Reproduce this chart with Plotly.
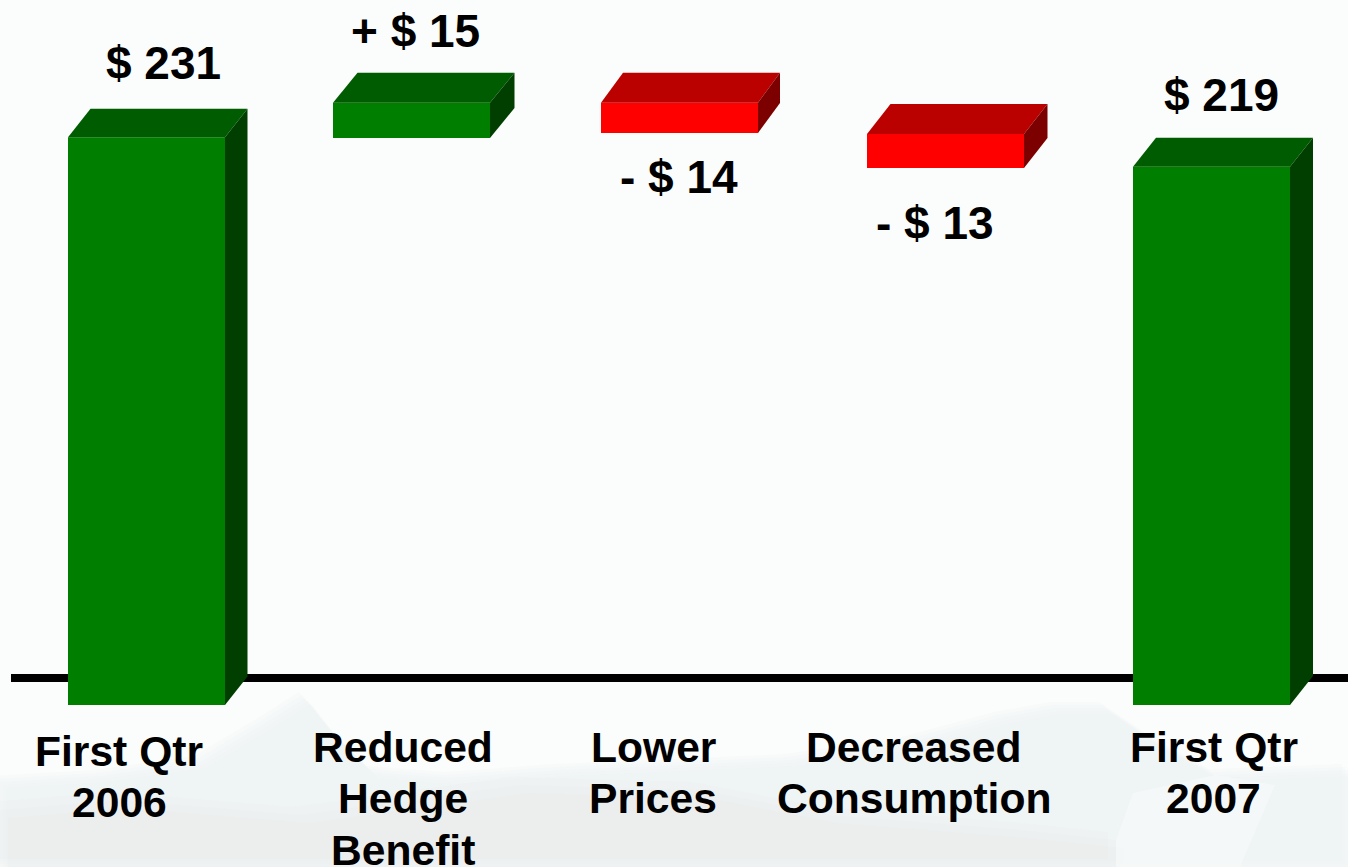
import plotly.graph_objects as go

# ---- data ----
categories = ["First Qtr<br>2006", "Reduced<br>Hedge<br>Benefit", "Lower<br>Prices",
              "Decreased<br>Consumption", "First Qtr<br>2007"]
value_labels = ["$ 231", "+ $ 15", "- $ 14", "- $ 13", "$ 219"]
bar_low = [0, 230.7, 232.7, 218.5, 0]
bar_high = [231, 245.0, 245.0, 232.3, 219]
face_kind = ["up", "up", "down", "down", "up"]

# ---- layout / styling ----
W, H = 1348, 867
PX_PER_UNIT = 2.458
ZERO_PY = 705
BAND = 266.25
FIRST_CX = 146.5
BAR_W = 157
AXIS_LINE_VALUE = 11

bar_nudge_px = [0, -1.25, 0.5, 0.25, 0]
depth_dx_px = [22.5, 24.5, 22, 23.5, 23]
depth_dy_px = [28.5, 30, 30, 30, 29]
label_cx = [119.5, 403, 653, 914, 1213.5]
label_first_py = [750.5, 746.5, 746.5, 746.5, 746.5]
LINE_STEP = 51.5
value_cx = [163.5, 415, 678.5, 935, 1221.5]
value_py = [63, 30.5, 177, 222.5, 94.5]

palette = {
    "up": dict(front="#007e00", top="#005c00", side="#003f00"),
    "down": dict(front="#ff0000", top="#bb0000", side="#7c0000"),
}

xu = lambda px: px / BAND
yu = lambda px: px / PX_PER_UNIT
xs = [i + xu(n) for i, n in enumerate(bar_nudge_px)]
half = xu(BAR_W) / 2

fig = go.Figure()
for i, x in enumerate(xs):
    c = palette[face_kind[i]]
    dx, dy = xu(depth_dx_px[i]), yu(depth_dy_px[i])
    lo, hi = bar_low[i], bar_high[i]
    fig.add_trace(go.Scatter(
        x=[x - half, x - half + dx, x + half + dx, x + half, x - half],
        y=[hi, hi + dy, hi + dy, hi, hi],
        mode="lines", fill="toself", fillcolor=c["top"], line=dict(width=0),
        hoverinfo="skip", showlegend=False))
    fig.add_trace(go.Scatter(
        x=[x + half, x + half + dx, x + half + dx, x + half, x + half],
        y=[hi, hi + dy, lo + dy, lo, hi],
        mode="lines", fill="toself", fillcolor=c["side"], line=dict(width=0),
        hoverinfo="skip", showlegend=False))

fig.add_trace(go.Bar(
    x=xs, y=[h - l for h, l in zip(bar_high, bar_low)], base=bar_low,
    width=[2 * half] * len(xs),
    marker=dict(color=[palette[k]["front"] for k in face_kind], line=dict(width=0)),
    showlegend=False, hoverinfo="skip"))

annotations = []
font_label = dict(family="Liberation Sans, Arial, sans-serif", size=42.6, color="#000000")
font_value = dict(family="Liberation Sans, Arial, sans-serif", size=46, color="#000000")
for i, cat in enumerate(categories):
    for j, line in enumerate(cat.split("<br>")):
        annotations.append(dict(
            xref="paper", yref="paper", x=label_cx[i] / W,
            y=1 - (label_first_py[i] + j * LINE_STEP) / H,
            text=f"<b>{line}</b>", showarrow=False, font=font_label,
            xanchor="center", yanchor="middle"))
    annotations.append(dict(
        xref="paper", yref="paper", x=value_cx[i] / W, y=1 - value_py[i] / H,
        text=f"<b>{value_labels[i]}</b>", showarrow=False, font=font_value,
        xanchor="center", yanchor="middle"))

def path(points, ox=0, oy=0):
    return "M " + " L ".join(f"{(x + ox)/W:.4f},{1 - (y + oy)/H:.4f}" for x, y in points) + " Z"

# faint mountain watermark behind the chart
ridge_far = [(0, 867), (0, 782), (100, 776), (200, 762), (262, 725), (305, 698), (332, 732),
             (372, 772), (450, 778), (560, 770), (680, 765), (790, 760), (900, 745),
             (1000, 718), (1055, 708), (1105, 708), (1160, 745), (1215, 775), (1348, 770), (1348, 867)]
ridge_near = [(0, 867), (0, 810), (120, 800), (300, 815), (520, 785), (700, 790), (830, 815),
              (1020, 830), (1116, 840), (1116, 867)]
light_patch = [(1116, 840), (1133, 793), (1215, 775), (1275, 785), (1240, 867), (1116, 867)]

wm_shapes = []
for off in (-6, -3, 0, 3, 6):
    wm_shapes.append(dict(type="path", xref="paper", yref="paper", layer="below",
                          path=path(ridge_far, off, off), fillcolor="#e6e9e9",
                          opacity=0.11, line=dict(width=0)))
for off in (-8, 0, 8):
    wm_shapes.append(dict(type="path", xref="paper", yref="paper", layer="below",
                          path=path(ridge_near, off, off), fillcolor="#e4e7e7",
                          opacity=0.12, line=dict(width=0)))
wm_shapes.append(dict(type="path", xref="paper", yref="paper", layer="below",
                      path=path(light_patch), fillcolor="#f9fafa", opacity=0.6, line=dict(width=0)))

fig.update_layout(
    width=W, height=H, autosize=False,
    margin=dict(l=0, r=0, t=0, b=0),
    paper_bgcolor="#fbfcfc", plot_bgcolor="rgba(0,0,0,0)",
    barmode="overlay",
    xaxis=dict(range=[-FIRST_CX / BAND, (W - FIRST_CX) / BAND], visible=False, fixedrange=True),
    yaxis=dict(range=[-(H - ZERO_PY) / PX_PER_UNIT, ZERO_PY / PX_PER_UNIT], visible=False, fixedrange=True),
    annotations=annotations,
    shapes=wm_shapes + [
        dict(type="line", xref="paper", yref="y", layer="below",
             x0=11 / W, x1=1, y0=AXIS_LINE_VALUE, y1=AXIS_LINE_VALUE,
             line=dict(color="#000000", width=8)),
    ],
)

fig.write_html("out.html", config=dict(displayModeBar=False),
               post_script="document.body.style.margin='0';document.body.style.overflow='hidden';")
